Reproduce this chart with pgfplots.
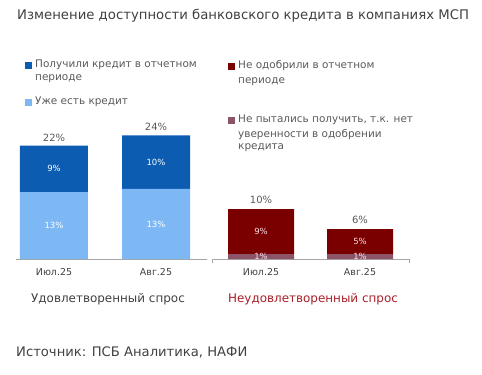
\documentclass[border=0pt]{standalone}
\usepackage{pgfplots}
\pgfplotsset{compat=1.18}
\usepackage{fontspec}
\setmainfont{DejaVu Sans}
\definecolor{dblue}{RGB}{12,92,178}
\definecolor{lblue}{RGB}{126,184,244}
\definecolor{dred}{RGB}{122,0,0}
\definecolor{mauve}{RGB}{139,84,104}
\definecolor{redtxt}{RGB}{170,30,40}
\definecolor{txt}{RGB}{64,64,64}
\definecolor{lg}{RGB}{89,89,89}
\definecolor{axg}{RGB}{166,166,166}
\definecolor{pinkw}{RGB}{250,225,230}
\newcommand{\fs}[1]{\fontsize{#1}{#1}\selectfont}
\begin{document}
\begin{tikzpicture}[x=1bp,y=1bp]
\path[use as bounding box] (0,0) rectangle (482,374);
\pgfplotsset{
  panel/.style={
    scale only axis, anchor=south west,
    ybar stacked, ymin=0, ymax=25,
    axis y line=none, axis x line*=bottom,
    axis line style={axg, line width=0.8pt},
    xtick={0,1}, xticklabels={Июл.25,Авг.25},
    major tick length=0pt,
    xticklabel style={font=\fs{9.5}, text=txt, yshift=-6bp},
    clip=false,
  }
}
% left panel
\begin{axis}[panel, at={(16bp,115bp)}, width=191bp, height=128.75bp,
  xmin=-0.3725, xmax=1.5, bar width=68bp]
\addplot[fill=lblue, draw=none] coordinates {(0,13) (1,13.6)};
\addplot[fill=dblue, draw=none] coordinates {(0,9) (1,10.4)};
\coordinate (L1) at (axis cs:0,6.5);
\coordinate (L2) at (axis cs:0,17.5);
\coordinate (L3) at (axis cs:1,6.8);
\coordinate (L4) at (axis cs:1,18.8);
\coordinate (LT1) at (axis cs:0,22);
\coordinate (LT2) at (axis cs:1,24);
\end{axis}
% right panel
\begin{axis}[panel, at={(212bp,115bp)}, width=197bp, height=125bp,
  xmin=-0.495, xmax=1.495, bar width=66bp,
  extra x ticks={-0.495,1.495}, extra x tick labels={},
  extra x tick style={major tick length=4bp, tick align=outside, tick style={axg, line width=0.8pt}}]
\addplot[fill=mauve, draw=none] coordinates {(0,1) (1,1)};
\addplot[fill=dred, draw=none] coordinates {(0,9) (1,5)};
\coordinate (R1) at (axis cs:0,5.5);
\coordinate (R2) at (axis cs:0,0.5);
\coordinate (R3) at (axis cs:1,3.5);
\coordinate (R4) at (axis cs:1,0.5);
\coordinate (RT1) at (axis cs:0,10);
\coordinate (RT2) at (axis cs:1,6);
\end{axis}
% bar labels
\node[text=white, font=\fs{8.5}] at (L1) {13\%};
\node[text=white, font=\fs{8.5}] at (L2) {9\%};
\node[text=white, font=\fs{8.5}] at (L3) {13\%};
\node[text=white, font=\fs{8.5}] at (L4) {10\%};
\node[text=lg, font=\fs{10}, anchor=south, yshift=1bp] at (LT1) {22\%};
\node[text=lg, font=\fs{10}, anchor=south, yshift=1bp] at (LT2) {24\%};
\node[text=pinkw, font=\fs{8.5}] at (R1) {9\%};
\node[text=pinkw, font=\fs{8.5}] at (R2) {1\%};
\node[text=pinkw, font=\fs{8.5}] at (R3) {5\%};
\node[text=pinkw, font=\fs{8.5}] at (R4) {1\%};
\node[text=lg, font=\fs{10}, anchor=south, yshift=2bp] at (RT1) {10\%};
\node[text=lg, font=\fs{10}, anchor=south, yshift=2bp] at (RT2) {6\%};
% title
\node[anchor=west, text=txt, font=\fs{13.3}, inner sep=0] at (17,358) {Изменение доступности банковского кредита в компаниях МСП};
% left legend
\fill[dblue] (25,305.5) rectangle (32,312.5);
\node[anchor=west, text=lg, font=\fs{10.5}, inner sep=0] at (35,309) {Получили кредит в отчетном};
\node[anchor=west, text=lg, font=\fs{10.5}, inner sep=0] at (35,295) {периоде};
\fill[lblue] (25,268.5) rectangle (32,275.5);
\node[anchor=west, text=lg, font=\fs{10.5}, inner sep=0] at (35,272) {Уже есть кредит};
% right legend
\fill[dred] (228,304.5) rectangle (235,311.5);
\node[anchor=west, text=lg, font=\fs{10.5}, inner sep=0] at (238,308) {Не одобрили в отчетном};
\node[anchor=west, text=lg, font=\fs{10.5}, inner sep=0] at (238,292) {периоде};
\fill[mauve] (228,250.5) rectangle (235,257.5);
\node[anchor=west, text=lg, font=\fs{10.5}, inner sep=0] at (238,254) {Не пытались получить, т.к. нет};
\node[anchor=west, text=lg, font=\fs{10.5}, inner sep=0] at (238,239) {уверенности в одобрении};
\node[anchor=west, text=lg, font=\fs{10.5}, inner sep=0] at (238,226) {кредита};
% subtitles
\node[text=txt, font=\fs{12}] at (108,75) {Удовлетворенный спрос};
\node[text=redtxt, font=\fs{12}] at (313,75) {Неудовлетворенный спрос};
% source
\node[anchor=west, text=txt, font=\fs{13.2}, inner sep=0] at (16,22) {Источник: ПСБ Аналитика, НАФИ};
\end{tikzpicture}
\end{document}
